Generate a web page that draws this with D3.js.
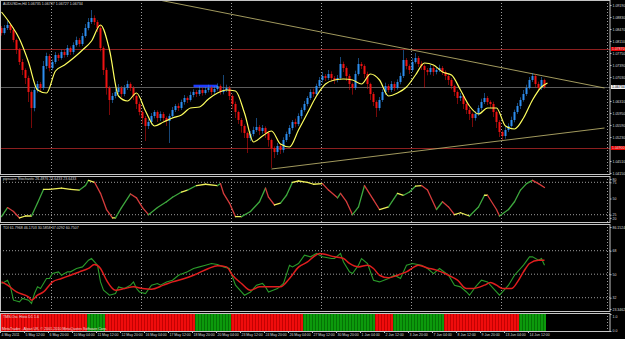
<!DOCTYPE html>
<html>
<head>
<meta charset="utf-8">
<title>AUDUSDm,H4</title>
<script src="https://cdn.jsdelivr.net/npm/d3@7"></script>
<style>
  body { margin: 0; background: #000; }
  svg { display: block; font-family: "Liberation Sans", Arial, sans-serif; }
  .lbl { fill: #dedede; font-size: 3.6px; }
</style>
</head>
<body>
<svg width="625" height="339"></svg>
<script>
// H4 bars, 4 May - 14 Jun 2011 (open = previous close)
var firstOpen = 1.0850;
var closes = [
  1.0835,1.0850,1.0859,1.0844,1.0814,1.0784,1.0748,1.0724,1.0700,1.0658,
  1.0610,1.0664,1.0682,1.0670,1.0736,1.0766,1.0730,1.0748,1.0769,1.0760,
  1.0778,1.0769,1.0790,1.0778,1.0799,1.0814,1.0802,1.0826,1.0850,1.0868,
  1.0880,1.0868,1.0850,1.0790,1.0724,1.0670,1.0634,1.0646,1.0658,1.0670,
  1.0652,1.0670,1.0682,1.0670,1.0646,1.0622,1.0598,1.0580,1.0556,1.0568,
  1.0586,1.0598,1.0580,1.0592,1.0580,1.0571,1.0586,1.0604,1.0616,1.0610,
  1.0628,1.0640,1.0634,1.0649,1.0658,1.0652,1.0664,1.0655,1.0664,1.0670,
  1.0658,1.0667,1.0676,1.0658,1.0664,1.0670,1.0646,1.0622,1.0598,1.0574,
  1.0556,1.0535,1.0520,1.0532,1.0544,1.0553,1.0541,1.0550,1.0535,1.0514,
  1.0490,1.0478,1.0496,1.0484,1.0514,1.0532,1.0550,1.0568,1.0562,1.0586,
  1.0604,1.0622,1.0640,1.0658,1.0652,1.0676,1.0694,1.0706,1.0700,1.0712,
  1.0700,1.0694,1.0700,1.0742,1.0730,1.0706,1.0682,1.0670,1.0712,1.0742,
  1.0736,1.0712,1.0682,1.0652,1.0628,1.0610,1.0634,1.0658,1.0676,1.0664,
  1.0682,1.0670,1.0688,1.0706,1.0754,1.0736,1.0724,1.0748,1.0760,1.0742,
  1.0736,1.0724,1.0718,1.0730,1.0718,1.0724,1.0730,1.0718,1.0706,1.0694,
  1.0676,1.0658,1.0640,1.0646,1.0622,1.0604,1.0592,1.0580,1.0592,1.0610,
  1.0628,1.0640,1.0628,1.0622,1.0598,1.0568,1.0538,1.0526,1.0544,1.0556,
  1.0574,1.0598,1.0616,1.0634,1.0652,1.0670,1.0694,1.0706,1.0682,1.0670,
  1.0694,1.0673
];
// shadow lengths in pips
var upWick = [
  6,9,12,5,8,4,6,9,5,7,
  5,8,9,6,15,10,6,8,9,5,
  7,6,9,5,8,10,6,9,12,12,
  24,8,6,9,5,7,6,9,8,12,
  6,9,10,5,6,4,7,5,6,8,
  9,6,5,8,6,5,7,9,6,8,
  7,9,5,10,8,6,12,6,9,10,
  6,9,8,5,45,10,6,5,7,4,
  6,5,4,9,10,27,6,9,5,6,
  4,5,9,6,8,7,9,6,10,8,
  7,9,6,8,10,7,9,12,6,12,
  8,6,9,21,7,5,6,4,10,18,
  6,5,7,4,6,5,9,8,10,6,
  9,7,8,10,30,6,5,12,15,6,
  8,5,6,9,7,8,10,6,5,7,
  6,4,5,9,6,5,7,4,9,8,
  10,15,6,5,7,4,6,5,9,8,
  10,7,9,8,12,10,9,9,6,7,
  9,4
];
var dnWick = [
  8,5,6,9,7,12,9,15,18,30,
  60,10,8,12,6,9,10,7,6,9,
  5,8,6,9,7,5,8,6,5,7,
  6,9,12,10,15,20,45,9,7,6,
  10,7,6,9,12,15,10,18,45,9,
  8,7,12,9,10,15,66,7,6,9,
  6,8,9,5,7,9,6,8,5,7,
  9,6,5,8,7,6,12,15,18,12,
  20,15,45,9,7,6,12,8,15,20,
  60,18,9,12,8,6,9,7,10,6,
  8,5,7,6,9,5,6,8,9,6,
  10,12,7,6,12,15,18,20,6,5,
  9,12,15,18,12,27,8,6,9,7,
  6,9,5,7,6,10,12,6,5,9,
  12,54,10,8,12,7,6,9,12,15,
  10,12,18,9,15,12,18,27,8,6,
  7,6,9,12,15,18,15,12,8,6,
  5,7,6,9,5,6,4,6,9,7,
  6,5
];
// yellow moving average [bar, price]
var maLine = [
  [0,1.0898],[3,1.0862],[6,1.0817],[9,1.0748],[12,1.0664],[15,1.0655],[18,1.0721],[21,1.0739],
  [24,1.0760],[27,1.0784],[30,1.0811],[33,1.0859],[36,1.0784],[39,1.0646],[42,1.0631],[45,1.0655],
  [48,1.0601],[51,1.0556],[54,1.0568],[57,1.0580],[60,1.0589],[63,1.0610],[66,1.0613],[69,1.0637],
  [72,1.0655],[75,1.0664],[78,1.0661],[81,1.0595],[84,1.0508],[87,1.0526],[90,1.0541],[93,1.0502],
  [96,1.0493],[99,1.0544],[102,1.0595],[105,1.0646],[108,1.0682],[111,1.0694],[114,1.0697],[117,1.0694],
  [120,1.0682],[123,1.0712],[126,1.0694],[129,1.0646],[132,1.0655],[135,1.0673],[138,1.0709],[141,1.0745],
  [144,1.0739],[147,1.0718],[150,1.0709],[153,1.0664],[156,1.0616],[159,1.0592],[162,1.0610],[165,1.0610],
  [168,1.0556],[171,1.0547],[174,1.0580],[177,1.0634],[180,1.0673],[182,1.0685]
];
// stochastic [bar, value]
var stoch = [
  [0,22],[2,36],[4,30],[6,20],[8,23],[10,23],[12,43],[14,64],[16,64],[20,66],[23,64],[26,63],
  [28,70],[29,78],[31,75],[33,58],[35,33],[37,20],[38,20],[40,36],[43,57],[45,51],[47,36],[49,25],
  [52,36],[55,45],[57,52],[60,60],[62,63],[65,70],[68,72],[72,70],[73,73],[74,58],[76,43],[78,22],
  [80,22],[83,30],[86,45],[88,66],[89,52],[91,40],[93,43],[95,55],[97,75],[99,77],[102,75],[104,72],
  [107,73],[109,63],[112,51],[113,58],[115,45],[117,25],[119,37],[121,70],[124,48],[126,33],[129,37],
  [132,58],[134,55],[136,60],[138,69],[140,70],[142,63],[145,33],[147,45],[149,37],[151,25],[153,28],
  [156,23],[159,37],[161,55],[162,55],[165,33],[166,23],[169,33],[171,45],[173,63],[175,73],[177,78],
  [179,73],[181,67]
];
// TDI price line (green) and signal line (red)
var tdiGreen = [
  [0,42.9],[1,44.1],[2,45.4],[3,40.3],[4,30.1],[6,28.8],[7,31.4],[9,30.1],[10,27.6],[11,35.2],
  [12,40.3],[13,39.0],[15,46.7],[16,46.7],[17,50.5],[19,51.8],[20,49.2],[22,51.8],[23,51.8],[25,54.4],
  [27,55.6],[29,60.7],[30,62.0],[32,56.9],[33,44.1],[34,37.7],[36,33.9],[38,35.2],[39,40.3],[41,39.0],
  [43,41.6],[44,44.1],[45,39.0],[46,36.4],[48,35.2],[50,41.6],[52,42.9],[53,41.6],[55,44.1],[57,45.4],
  [59,49.2],[62,51.8],[64,54.4],[66,55.6],[68,56.9],[70,58.2],[72,57.4],[74,55.6],[76,54.4],[77,47.9],
  [78,41.6],[80,36.4],[81,33.9],[83,36.4],[85,41.6],[87,42.9],[88,40.3],[89,36.4],[92,39.0],[94,42.9],
  [96,56.9],[97,55.6],[99,58.2],[101,64.6],[103,63.3],[105,65.9],[107,63.3],[110,62.0],[111,62.0],[113,65.9],
  [114,59.4],[116,51.8],[117,50.5],[119,56.9],[120,62.0],[122,58.2],[124,45.4],[126,44.1],[129,46.7],[131,49.2],
  [133,46.7],[135,56.9],[137,58.2],[140,56.9],[142,54.4],[144,50.5],[146,54.4],[149,49.2],[151,41.6],[153,40.3],
  [155,36.4],[156,33.9],[158,40.3],[160,45.4],[162,44.1],[164,39.0],[166,33.9],[167,36.4],[169,41.6],[171,49.2],
  [174,56.9],[176,63.3],[177,63.3],[179,60.7],[180,62.0],[181,56.9]
];
var tdiRed = [
  [0,44.1],[2,41.6],[5,36.4],[9,32.6],[10,30.1],[12,33.9],[14,36.4],[17,44.1],[20,46.7],[23,49.2],
  [26,51.8],[29,54.4],[31,57.4],[33,54.4],[35,45.4],[38,37.7],[41,39.0],[44,40.3],[47,39.0],[50,38.5],
  [54,41.6],[57,44.1],[61,46.7],[64,49.2],[69,54.4],[72,56.4],[75,55.6],[77,49.2],[80,42.9],[83,37.7],
  [86,40.3],[90,40.3],[93,40.3],[96,46.7],[99,55.4],[102,59.4],[104,63.3],[106,65.9],[111,63.3],[114,62.0],
  [116,58.2],[119,55.6],[122,56.9],[124,54.4],[126,49.2],[129,47.2],[132,49.2],[135,51.8],[139,56.9],[142,54.8],
  [145,53.1],[149,49.2],[152,45.4],[155,39.0],[157,39.0],[161,41.6],[163,43.6],[165,41.6],[167,39.0],[170,39.0],
  [172,44.1],[174,51.8],[176,58.2],[179,60.7],[181,60.7]
];
// TMS-Osc histogram state per bar: r = down, g = up
var histoState = ("rrrrrrrrrr rrrrrrrrrr rrrrrrrrrg gggggrrrrr rrrrrrrrrr rrrrrrrrrr rrrrrggggg gggggggrrr " +
                  "rrrrrrrrrr rrrrrrrrrr rggggggggg gggggggggg gggggrrrrr rggggggggg ggggggggrr rrrrrrrrrr " +
                  "rrrrrrrrrr rrrggggggg gg").replace(/ /g, "").split("");

var timeBars = [0,8,16,24,32,40,48,56,64,72,80,88,96,104,112,120,128,136,144,152,160,168,176];
var timeLabels = ["4 May 2011","5 May 12:00","6 May 20:00","10 May 04:00","11 May 12:00","12 May 20:00",
  "16 May 04:00","17 May 12:00","18 May 20:00","20 May 04:00","23 May 12:00","24 May 20:00","26 May 04:00",
  "27 May 12:00","30 May 20:00","1 Jun 04:00","2 Jun 12:00","3 Jun 20:00","7 Jun 04:00","8 Jun 12:00",
  "9 Jun 20:00","13 Jun 04:00","14 Jun 12:00"];
// scale labels (the two hidden under the price markers are left out)
var priceTicks = [1.0919,1.0883,1.0847,1.0811,1.0775,1.0739,1.0703,1.0631,1.0595,1.0559,1.0523,1.0451,1.0415];
var redLevels = [1.0787, 1.0490];
var bidPrice = 1.0673;
var blueLevel = [64, 72, 1.0676];
var upperTrend = [[52.5, 1.0934], [201, 1.0670]];
var lowerTrend = [[90, 1.0427], [201, 1.0550]];
var gridBars = [17, 47, 77, 107, 137, 167];
var stochTicks = [80, 75, 50, 25, 20];
var stochLevels = [75, 25];
var tdiTicks = [86.1524, 68, 50, 32, 23.3462];
var tdiLevels = [68, 50, 32];

var svg = d3.select("svg");
svg.append("rect").attr("width", 625).attr("height", 339).attr("fill", "#000");

var right = 610;
var panels = [[0, 174], [176, 222], [224, 311], [313, 331]];

var x = d3.scaleLinear().domain([0, 181]).range([1.5, 544.5]);
var yMain = d3.scaleLinear().domain([1.0412, 1.0934]).range([174, 0]);
var yStoch = d3.scaleLinear().domain([25, 75]).range([214.7, 182.3]);
var yTdi = d3.scaleLinear().domain([32, 68]).range([297.7, 250.7]);
var yHist = d3.scaleLinear().domain([0, 1]).range([331, 314]);

var defs = svg.append("defs");
panels.forEach(function (p, k) {
  defs.append("clipPath").attr("id", "clip" + k)
    .append("rect").attr("x", 0).attr("y", p[0]).attr("width", right).attr("height", p[1] - p[0]);
});

// dotted grid
panels.forEach(function (p) {
  svg.append("g").selectAll("line").data(gridBars).enter().append("line")
    .attr("x1", function (d) { return x(d) - 1; }).attr("x2", function (d) { return x(d) - 1; })
    .attr("y1", p[0]).attr("y2", p[1])
    .attr("stroke", "#9c9c9c").attr("stroke-dasharray", "1,2");
  svg.append("line").attr("x1", 607.5).attr("x2", 607.5).attr("y1", p[0]).attr("y2", p[1])
    .attr("stroke", "#9c9c9c").attr("stroke-dasharray", "1,2");
});

// ---- main chart
var main = svg.append("g").attr("clip-path", "url(#clip0)");

main.selectAll(".red-level").data(redLevels).enter().append("line")
  .attr("x1", 0).attr("x2", right)
  .attr("y1", function (d) { return Math.round(yMain(d)) + 0.5; })
  .attr("y2", function (d) { return Math.round(yMain(d)) + 0.5; })
  .attr("stroke", "#8c1f1f");
main.append("line").attr("x1", 0).attr("x2", right)
  .attr("y1", Math.round(yMain(bidPrice)) + 0.5).attr("y2", Math.round(yMain(bidPrice)) + 0.5)
  .attr("stroke", "#5c5c5c");

[upperTrend, lowerTrend].forEach(function (t) {
  main.append("line")
    .attr("x1", x(t[0][0])).attr("y1", yMain(t[0][1]))
    .attr("x2", x(t[1][0])).attr("y2", yMain(t[1][1]))
    .attr("stroke", "#b3aa68").attr("stroke-width", 0.9);
});

main.append("line")
  .attr("x1", x(blueLevel[0])).attr("x2", x(blueLevel[1]))
  .attr("y1", yMain(blueLevel[2])).attr("y2", yMain(blueLevel[2]))
  .attr("stroke", "#1f3cff").attr("stroke-width", 2.6);

var bars = closes.map(function (c, i) {
  var o = i ? closes[i - 1] : firstOpen;
  return {
    i: i, open: o, close: c,
    high: Math.max(o, c) + upWick[i] / 10000,
    low: Math.min(o, c) - dnWick[i] / 10000
  };
});
function barColor(d) { return d.close >= d.open ? "#2d8ef0" : "#f01212"; }

main.selectAll(".wick").data(bars).enter().append("line")
  .attr("x1", function (d) { return x(d.i); }).attr("x2", function (d) { return x(d.i); })
  .attr("y1", function (d) { return yMain(d.high); }).attr("y2", function (d) { return yMain(d.low); })
  .attr("stroke", barColor).attr("stroke-opacity", 0.5);
main.selectAll(".body").data(bars).enter().append("rect")
  .attr("x", function (d) { return x(d.i) - 1; }).attr("width", 2)
  .attr("y", function (d) { return yMain(Math.max(d.open, d.close)); })
  .attr("height", function (d) { return Math.max(1, yMain(Math.min(d.open, d.close)) - yMain(Math.max(d.open, d.close))); })
  .attr("fill", barColor);

main.append("path").datum(maLine)
  .attr("d", d3.line().x(function (d) { return x(d[0]); }).y(function (d) { return yMain(d[1]); }).curve(d3.curveMonotoneX))
  .attr("fill", "none").attr("stroke", "#ffff5e").attr("stroke-width", 1.2);

// ---- stochastic
var st = svg.append("g").attr("clip-path", "url(#clip1)");
st.selectAll(".lvl").data(stochLevels).enter().append("line")
  .attr("x1", 0).attr("x2", right).attr("y1", yStoch).attr("y2", yStoch)
  .attr("stroke", "#9c9c9c").attr("stroke-dasharray", "1,2");
var segs = d3.pairs(stoch);
st.selectAll(".seg").data(segs).enter().append("line")
  .attr("x1", function (d) { return x(d[0][0]); }).attr("y1", function (d) { return yStoch(d[0][1]); })
  .attr("x2", function (d) { return x(d[1][0]); }).attr("y2", function (d) { return yStoch(d[1][1]); })
  .attr("stroke-width", 1.3).attr("stroke-linecap", "round")
  .attr("stroke", function (d) {
    var slope = (d[1][1] - d[0][1]) / (d[1][0] - d[0][0]);
    return slope > 2 ? "#3ea83e" : slope < -2 ? "#d63c3c" : "#f0f05a";
  });

// ---- TDI
var td = svg.append("g").attr("clip-path", "url(#clip2)");
td.selectAll(".lvl").data(tdiLevels).enter().append("line")
  .attr("x1", 0).attr("x2", right).attr("y1", yTdi).attr("y2", yTdi)
  .attr("stroke", "#9c9c9c").attr("stroke-dasharray", "1,2");
var tdiLine = d3.line().x(function (d) { return x(d[0]); }).y(function (d) { return yTdi(d[1]); });
td.append("path").datum(tdiGreen).attr("d", tdiLine)
  .attr("fill", "none").attr("stroke", "#2a9a2a").attr("stroke-width", 1.1);
td.append("path").datum(tdiRed).attr("d", tdiLine.curve(d3.curveMonotoneX))
  .attr("fill", "none").attr("stroke", "#e01e1e").attr("stroke-width", 1.5);

// ---- histogram
var hs = svg.append("g").attr("clip-path", "url(#clip3)");
hs.selectAll(".hb").data(histoState).enter().append("rect")
  .attr("x", function (d, i) { return x(i) - 1.5; }).attr("width", 3)
  .attr("y", yHist(1)).attr("height", yHist(0) - yHist(1))
  .attr("fill", function (d) { return d === "g" ? "#0c9a0c" : "#f00c0c"; });
hs.selectAll(".hs").data(histoState).enter().append("rect")
  .attr("x", function (d, i) { return x(i) - 1.5; }).attr("width", 0.8)
  .attr("y", yHist(1)).attr("height", yHist(0) - yHist(1))
  .attr("fill", function (d) { return d === "g" ? "#046a04" : "#b80000"; });

// ---- frames
panels.forEach(function (p) {
  svg.append("rect").attr("x", 0.5).attr("y", p[0] + 0.5)
    .attr("width", right - 0.5).attr("height", p[1] - p[0])
    .attr("fill", "none").attr("stroke", "#c4c4c4");
});

// ---- axes
function styleAxis(g) {
  g.attr("font-size", 3.5).attr("font-family", "'Liberation Sans', Arial, sans-serif").attr("color", "#dcdcdc");
  g.select(".domain").remove();
  g.selectAll("line").attr("stroke", "#c4c4c4");
}
svg.append("g").attr("transform", "translate(" + right + ",0)")
  .call(d3.axisRight(yMain).tickValues(priceTicks).tickFormat(d3.format(".5f")).tickSize(1.5).tickPadding(1))
  .call(styleAxis);
svg.append("g").attr("transform", "translate(" + right + ",0)")
  .call(d3.axisRight(yStoch).tickValues(stochTicks).tickFormat(d3.format("d")).tickSize(1.5).tickPadding(1))
  .call(styleAxis);
svg.append("g").attr("transform", "translate(" + right + ",0)")
  .call(d3.axisRight(yTdi).tickValues(tdiTicks)
    .tickFormat(function (d) { return Number.isInteger(d) ? d : d.toFixed(4); }).tickSize(1.5).tickPadding(1))
  .call(styleAxis);
var hx = svg.append("g").attr("transform", "translate(" + right + ",0)")
  .call(d3.axisRight(yHist).tickValues([0, 1]).tickSize(1.5).tickPadding(1))
  .call(styleAxis);
hx.selectAll("text").attr("y", function (d) { return d ? 2 : -1; });

var tx = svg.append("g").attr("transform", "translate(-1.5," + panels[3][1] + ")")
  .call(d3.axisBottom(x).tickValues(timeBars).tickFormat(function (d, k) { return timeLabels[k]; }).tickSize(2).tickPadding(0.8))
  .call(styleAxis);
tx.selectAll("text").attr("text-anchor", "start").attr("dx", 1);

// price markers on the scale
redLevels.forEach(function (v) {
  svg.append("rect").attr("x", right + 1).attr("y", yMain(v) - 2).attr("width", 14).attr("height", 4).attr("fill", "#e60000");
  svg.append("text").attr("class", "lbl").attr("x", right + 2).attr("y", yMain(v) + 1.3)
    .attr("fill", "#fff").style("font-size", "3.5px").text(v.toFixed(5));
});
svg.append("rect").attr("x", right + 1).attr("y", yMain(bidPrice) - 2).attr("width", 14).attr("height", 4).attr("fill", "#f2f2f2");
svg.append("text").attr("x", right + 2).attr("y", yMain(bidPrice) + 1.3)
  .attr("fill", "#000").style("font-size", "3.5px").text("1.06734");

// ---- titles
var titles = [
  ["AUDUSDm,H4  1.06735 1.06737 1.06727 1.06734", 5],
  ["pipsuare Stochastic 26.4876 23.6433 23.6433", 180],
  ["TDI 61.7968 46.1703 30.5858 37.0292 60.7507", 229],
  ["TMS-Osc Histo D1 1.6", 318]
];
titles.forEach(function (t) {
  svg.append("text").attr("class", "lbl").attr("x", 3).attr("y", t[1]).text(t[0]);
});
svg.append("text").attr("class", "lbl").attr("x", 2).attr("y", 330)
  .style("fill", "#f4dcdc").text("MetaTrader - Alpari UK, \u00a9 2001-2010 MetaQuotes Software Corp.");
</script>
</body>
</html>
